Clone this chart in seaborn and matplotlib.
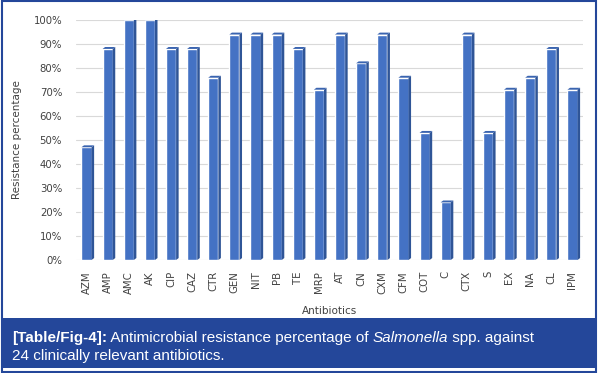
import matplotlib
matplotlib.use('Agg')
import matplotlib.pyplot as plt
from matplotlib.patches import Polygon, Rectangle
from matplotlib.ticker import PercentFormatter
import pandas as pd
import seaborn as sns

antibiotics = ['AZM', 'AMP', 'AMC', 'AK', 'CIP', 'CAZ', 'CTR', 'GEN', 'NIT', 'PB', 'TE', 'MRP',
               'AT', 'CN', 'CXM', 'CFM', 'COT', 'C', 'CTX', 'S', 'EX', 'NA', 'CL', 'IPM']
resistance = [47, 88, 100, 100, 88, 88, 76, 94, 94, 94, 88, 71,
              94, 82, 94, 76, 53, 24, 94, 53, 71, 76, 88, 71]
y_ticks = list(range(0, 101, 10))

BAR = '#4472C4'
SIDE = '#2F5597'
TOP = '#3A64B0'
FRAME = '#24479A'
TEXT = '#404040'

df = pd.DataFrame({'antibiotic': antibiotics, 'resistance': resistance})

sns.set_style('white')
plt.rcParams['font.family'] = ['DejaVu Sans']

fig = plt.figure(figsize=(5.98, 3.73), dpi=100)
ax = fig.add_axes([0.127, 0.303, 0.848, 0.643])

sns.barplot(data=df, x='antibiotic', y='resistance', color=BAR, width=0.48,
            saturation=1, ax=ax, zorder=3)

# fake 3D side/top faces from each bar's geometry
dx, dy = 0.12, 0.8
for p in list(ax.patches):
    x0 = p.get_x()
    x1 = x0 + p.get_width()
    h = p.get_height()
    ax.add_patch(Polygon([(x1, 0), (x1 + dx, dy), (x1 + dx, h + dy), (x1, h)],
                         closed=True, facecolor=SIDE, edgecolor='none', zorder=3))
    ax.add_patch(Polygon([(x0, h), (x1, h), (x1 + dx, h + dy), (x0 + dx, h + dy)],
                         closed=True, facecolor=TOP, edgecolor='none', zorder=3))

ax.set_xlim(-0.5, len(antibiotics) - 0.5)
ax.set_ylim(0, 100)
ax.set_yticks(y_ticks)
ax.yaxis.set_major_formatter(PercentFormatter(decimals=0))
ax.grid(axis='y', color='#d9d9d9', linewidth=0.8, zorder=0)
ax.grid(axis='x', visible=False)
for s in ax.spines.values():
    s.set_visible(False)
ax.tick_params(axis='both', length=0, labelsize=7.3, colors=TEXT)
ax.tick_params(axis='y', pad=10)
ax.tick_params(axis='x', pad=8)
plt.setp(ax.get_xticklabels(), rotation=90)
ax.set_xlabel('Antibiotics', fontsize=7.5, color=TEXT, labelpad=9)
ax.set_ylabel('Resistance percentage', fontsize=7.5, color=TEXT, labelpad=8)

# outer frame and caption box
fig.patches.append(Rectangle((0.004, 0.004), 0.992, 0.992, transform=fig.transFigure,
                             fill=False, edgecolor=FRAME, linewidth=1.5))
fig.patches.append(Rectangle((0.004, 0.013), 0.992, 0.134, transform=fig.transFigure,
                             facecolor=FRAME, edgecolor='none'))

cap_font = ['Liberation Sans', 'DejaVu Sans']
renderer = fig.canvas.get_renderer()
x = 12 / 598
y1 = 1 - 342 / 373
parts = [('[Table/Fig-4]:', 'bold', 'normal'),
         (' Antimicrobial resistance percentage of ', 'normal', 'normal'),
         ('Salmonella', 'normal', 'italic'),
         (' spp. against', 'normal', 'normal')]
for txt, weight, style in parts:
    t = fig.text(x, y1, txt, color='white', fontsize=11, fontweight=weight,
                 fontstyle=style, family=cap_font, ha='left', va='baseline')
    bb = t.get_window_extent(renderer)
    x = bb.x1 / fig.bbox.width
fig.text(12 / 598, 1 - 360 / 373, '24 clinically relevant antibiotics.', color='white',
         fontsize=11, family=cap_font, ha='left', va='baseline')

fig.savefig('out.png', dpi=100)
